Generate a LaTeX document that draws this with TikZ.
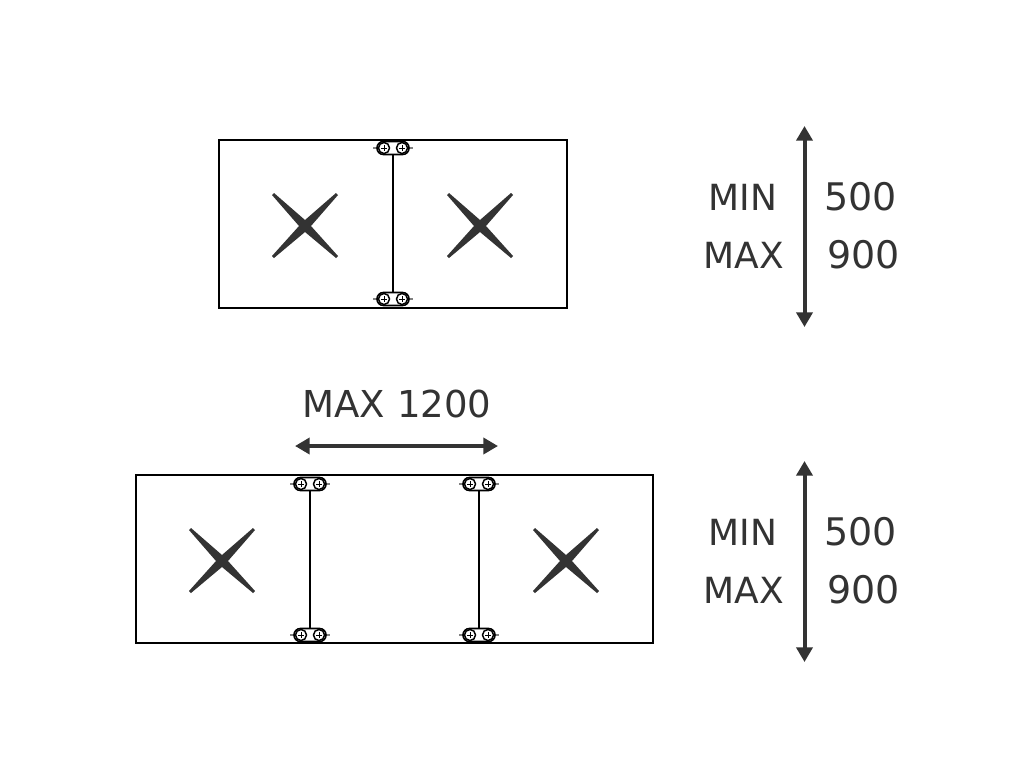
\documentclass[tikz,border=0pt]{standalone}
\usepackage{fontspec}
\setmainfont{DejaVu Sans}
\usetikzlibrary{arrows.meta}
\definecolor{inkdark}{rgb}{0.2,0.2,0.2}
\tikzset{
  tabletop/.style={draw=black,line width=1.5pt},
  hingelink/.style={draw=black,line width=1.2pt},
  hingebody/.style={draw=black,fill=white,line width=1.2pt,rounded corners=4.8pt,minimum width=24pt,minimum height=9.75pt,inner sep=0pt},
  dimarrow/.style={draw=inkdark,line width=3pt,{Triangle[width=12pt,length=11pt]}-{Triangle[width=12pt,length=11pt]}},
  dimtext/.style={inner sep=0.75pt,text=inkdark,font=\fontsize{27}{27}\selectfont},
  dimnum/.style={inner sep=0.75pt,text=inkdark,font=\fontsize{28.5}{28.5}\selectfont},
  spantext/.style={inner sep=0.75pt,text=inkdark,font=\fontsize{27.8}{27.8}\selectfont},
}
% hinge: name, x, y
\newcommand{\hingemark}[3]{
  \draw [gray,line width=1.5pt] (#2-20,#3) -- (#2+20,#3);
  \node (#1) at (#2,#3) [hingebody] {};
  \draw [fill=white,line width=1.1pt] (#2-9,#3) circle [radius=5.5];
  \draw [fill=white,line width=1.1pt] (#2+9,#3) circle [radius=5.5];
  \draw [line width=0.6pt] (#2-12,#3) -- (#2-6,#3) (#2-9,#3-3) -- (#2-9,#3+3);
  \draw [line width=0.6pt] (#2+6,#3) -- (#2+12,#3) (#2+9,#3-3) -- (#2+9,#3+3);
}
% tapered cross: x, y
\newcommand{\crossmark}[2]{
  \fill [inkdark] (#1-33,#2-31) -- (#1-31,#2-33) -- (#1,#2-6) -- (#1+31,#2-33) -- (#1+33,#2-31) -- (#1+6,#2) -- (#1+33,#2+30) -- (#1+31,#2+32) -- (#1,#2+6) -- (#1-31,#2+32) -- (#1-33,#2+30) -- (#1-6,#2) -- cycle;
}
\begin{document}
\begin{tikzpicture}[x=0.75pt,y=0.75pt,yscale=-1,xscale=1]
\useasboundingbox (0,0) rectangle (1024,768);
\fill [white] (0,0) rectangle (1024,768);

% closed table
\draw [tabletop] (219,140) rectangle (567,308);
\hingemark{hingeTop}{393}{148}
\hingemark{hingeBot}{393}{299}
\draw [hingelink] (hingeTop) -- (hingeBot);
\crossmark{305}{226}
\crossmark{480}{226}

% open table
\draw [tabletop] (136,475) rectangle (653,643);
\hingemark{hingeTopA}{310}{484}
\hingemark{hingeBotA}{310}{635}
\hingemark{hingeTopB}{479}{484}
\hingemark{hingeBotB}{479}{635}
\draw [hingelink] (hingeTopA) -- (hingeBotA);
\draw [hingelink] (hingeTopB) -- (hingeBotB);
\crossmark{222}{561}
\crossmark{566}{561}

% dimensions
\coordinate (upperTop) at (804.5,126);
\coordinate (upperBot) at (804.5,327);
\coordinate (lowerTop) at (804.5,461);
\coordinate (lowerBot) at (804.5,662);
\coordinate (spanL) at (295,446);
\coordinate (spanR) at (498,446);
\draw [dimarrow] (upperTop) -- (upperBot);
\draw [dimarrow] (lowerTop) -- (lowerBot);
\draw [dimarrow] (spanL) -- (spanR);

\node (minUpper) at (743,197) [dimtext] {MIN};
\node (minUpperVal) at (860.5,197) [dimnum] {500};
\node (maxUpper) at (744,255) [dimtext] {MAX};
\node (maxUpperVal) at (863.5,255) [dimnum] {900};
\node (minLower) at (743,532) [dimtext] {MIN};
\node (minLowerVal) at (860.5,532) [dimnum] {500};
\node (maxLower) at (744,590) [dimtext] {MAX};
\node (maxLowerVal) at (863.5,590) [dimnum] {900};
\node (spanText) at (397,404) [spantext] {MAX 1200};
\end{tikzpicture}
\end{document}
